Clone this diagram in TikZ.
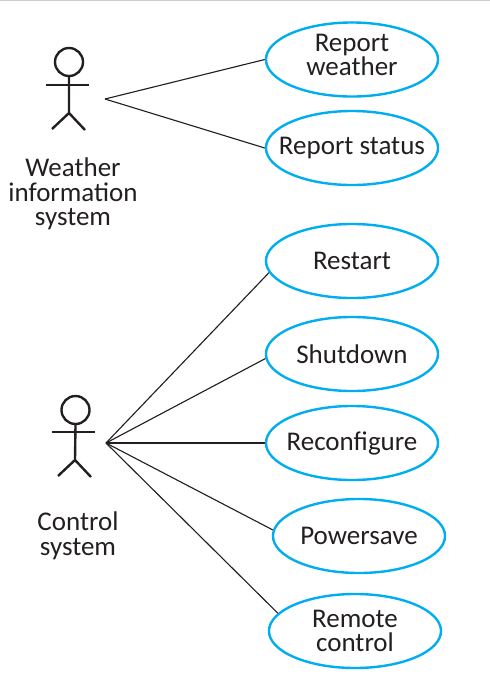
\documentclass[tikz,border=0pt]{standalone}
\usepackage{fontspec}
\setmainfont{Carlito}
\usetikzlibrary{shapes.geometric}
\definecolor{usecaseblue}{RGB}{0,174,239}
\definecolor{inkblack}{RGB}{35,31,32}

\begin{document}
\begin{tikzpicture}[x=0.025cm,y=-0.025cm,usecase/.style={ellipse,draw=usecaseblue,line width=1.7pt,fill=white,align=center,font=\fontsize{19.2}{17.4}\selectfont,text=inkblack,minimum width=4.3cm,minimum height=1.85cm,inner xsep=-1cm,inner ysep=-0.3cm},head/.style={circle,draw=inkblack,line width=1.7pt,minimum size=0.7cm,inner sep=0pt},limb/.style={draw=inkblack,line width=1.7pt},actorname/.style={align=center,font=\fontsize{19.2}{17.4}\selectfont,text=inkblack},assoc/.style={draw=inkblack,line width=0.8pt}]
\useasboundingbox (0,0) rectangle (490,680);
\draw[gray!40,line width=1pt] (0,0.5) -- (490,0.5);
\node[usecase] (weather) at (352,59.5) {};\node[actorname] (weathertext) at (352,55) {Report\\weather};
\node[usecase] (status) at (352,148) {Report status};
\node[usecase] (restart) at (352,261) {Restart};
\node[usecase] (shutdown) at (352,354) {Shutdown};
\node[usecase] (reconfigure) at (352,443) {Reconfigure};
\node[usecase] (powersave) at (359,536) {Powersave};
\node[usecase] (remote) at (355,631) {Remote\\control};
\node[head] (head1) at (69,62) {};
\draw[limb] (head1.south) -- (69,113) coordinate (hip1) -- (52,129);\draw[limb] (hip1) -- (85,130);\draw[limb] (46,85) -- (89,85);
\node[head] (head2) at (75.5,410) {};
\draw[limb] (head2.south) -- (75,460) coordinate (hip2) -- (58,476);\draw[limb] (hip2) -- (91,477);\draw[limb] (52,432) -- (95,432);
\node[actorname] (weathersys) at (73,194) {Weather\\information\\system};
\node[actorname] (controlsys) at (78,536) {Control\\system};
\coordinate (hub1) at (105,99);
\coordinate (hub2) at (106,443);
\draw[assoc] (hub1) -- (weather.west);\draw[assoc] (hub1) -- (status.west);
\draw[assoc] (hub2) -- (restart.188);\draw[assoc] (hub2) -- (shutdown.183);\draw[assoc] (hub2) -- (reconfigure.west);\draw[assoc] (hub2) -- (powersave.176);\draw[assoc] (hub2) -- (remote.167);
\end{tikzpicture}
\end{document}
